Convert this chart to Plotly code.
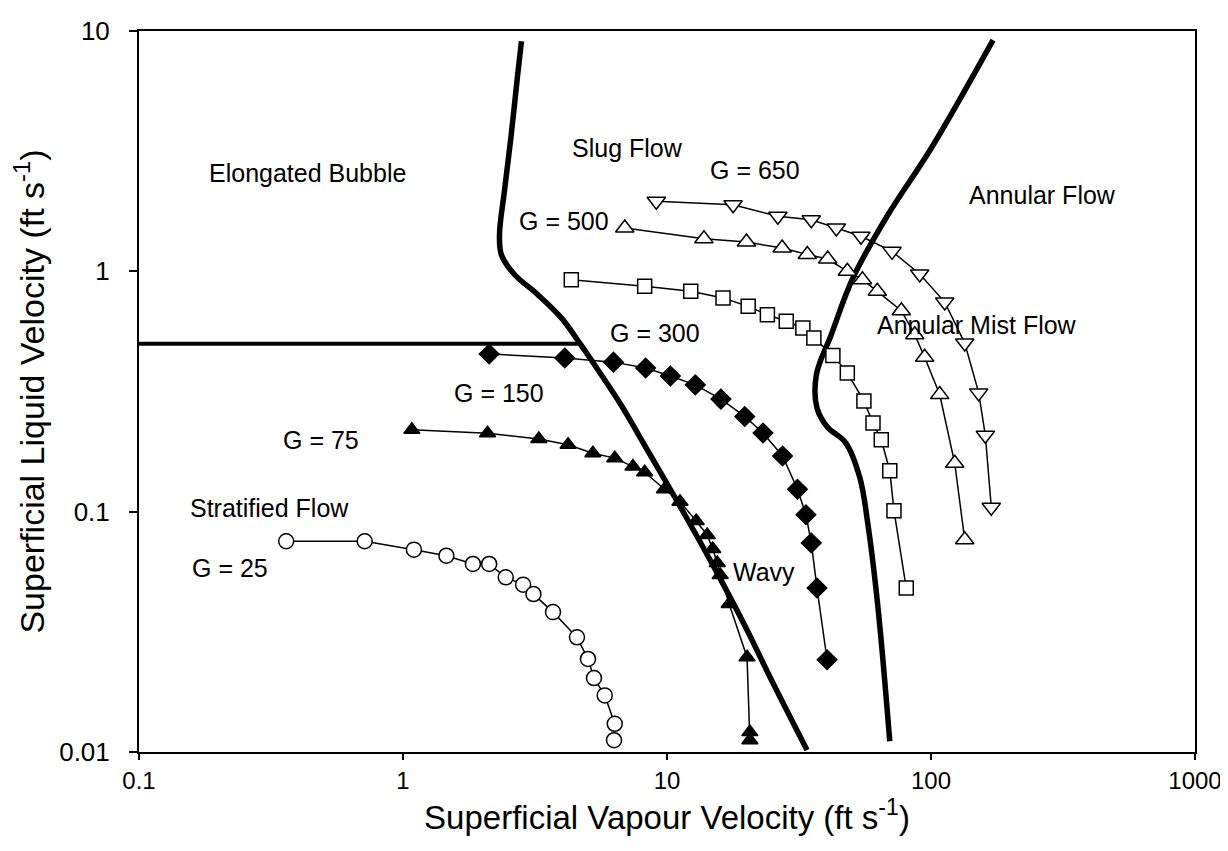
import numpy as np
import plotly.graph_objects as go

# ---------------- data ----------------
g25_x = [0.361, 0.716, 1.10, 1.46, 1.84, 2.12, 2.45, 2.85, 3.12, 3.70, 4.56, 5.02, 5.29, 5.81, 6.34, 6.30]
g25_y = [0.0753, 0.0753, 0.0695, 0.0656, 0.0606, 0.0606, 0.0533, 0.0497, 0.0454, 0.0382, 0.0300, 0.0244,
         0.0203, 0.0172, 0.0131, 0.0112]

g75_x = [1.08, 2.09, 3.27, 4.22, 5.24, 6.34, 7.43, 8.23, 9.78, 11.2, 12.9, 14.2, 14.9, 15.5, 15.9, 17.2,
         20.1, 20.6, 20.6]
g75_y = [0.219, 0.212, 0.2006, 0.190, 0.175, 0.167, 0.154, 0.146, 0.124, 0.110, 0.0915, 0.080, 0.070,
         0.0612, 0.0545, 0.0413, 0.0248, 0.0121, 0.0112]

g150_x = [2.12, 4.10, 6.27, 8.30, 10.3, 12.8, 16.0, 19.7, 23.1, 27.4, 31.2, 33.6, 35.2, 37.0, 40.4]
g150_y = [0.453, 0.436, 0.419, 0.396, 0.367, 0.337, 0.294, 0.249, 0.2125, 0.1705, 0.124, 0.0971, 0.0741,
          0.0481, 0.0242]

g300_x = [4.34, 8.23, 12.3, 16.3, 20.3, 24.0, 28.3, 32.7, 36.0, 42.5, 48.2, 55.7, 60.3, 64.8, 69.8, 72.4, 80.6]
g300_y = [0.923, 0.866, 0.826, 0.774, 0.715, 0.660, 0.620, 0.581, 0.528, 0.447, 0.378, 0.289, 0.234, 0.199,
          0.148, 0.101, 0.0481]

g500_x = [6.92, 13.8, 20.0, 27.3, 34.0, 40.6, 48.2, 55.0, 62.6, 77.2, 86.8, 94.6, 107.9, 123.0, 134.2]
g500_y = [1.515, 1.367, 1.324, 1.25, 1.175, 1.125, 1.0, 0.923, 0.826, 0.686, 0.545, 0.439, 0.307, 0.159, 0.0764]

g650_x = [9.11, 17.8, 26.3, 35.2, 43.8, 54.3, 71.2, 90.6, 112.7, 134.2, 151.6, 160.6, 169.2]
g650_y = [1.956, 1.893, 1.694, 1.64, 1.515, 1.399, 1.211, 0.975, 0.745, 0.503, 0.312, 0.208, 0.1043]

# flow-regime boundaries
left_bx = [2.81, 2.71, 2.57, 2.43, 2.32, 2.36, 2.65, 3.24, 3.98, 4.72, 5.48, 6.70, 8.47, 10.54, 13.1, 16.0,
           19.75, 25.2, 33.9]
left_by = [9.06, 6.37, 3.70, 2.22, 1.42, 1.17, 0.968, 0.80, 0.64, 0.494, 0.3886, 0.2778, 0.1788, 0.1184,
           0.0777, 0.0520, 0.03344, 0.01937, 0.0102]

right_bx = [171.8, 100.3, 68.7, 50.6, 41.9, 36.8, 37.0, 40.5, 47.6, 53.8, 57.7, 63.0, 69.8]
right_by = [9.17, 3.26, 1.72, 0.938, 0.545, 0.3715, 0.270, 0.225, 0.193, 0.138, 0.0883, 0.0397, 0.01108]

horiz_x = [0.1, 4.72]
horiz_y = [0.5, 0.5]

x_ticks = [0.1, 1, 10, 100, 1000]
x_ticktext = ["0.1", "1", "10", "100", "1000"]
y_ticks = [0.01, 0.1, 1, 10]
y_ticktext = ["0.01", "0.1", "1", "10"]

labels = [
    ("Elongated Bubble", 0.436, 2.57),
    ("Slug Flow", 7.06, 3.26),
    ("G = 650", 21.5, 2.64),
    ("G = 500", 4.07, 1.62),
    ("Annular Flow", 265.0, 2.08),
    ("Annular Mist Flow", 149.0, 0.598),
    ("G = 300", 9.0, 0.554),
    ("G = 150", 2.31, 0.312),
    ("G = 75", 0.489, 0.199),
    ("Stratified Flow", 0.313, 0.1036),
    ("G = 25", 0.221, 0.0583),
    ("Wavy", 23.3, 0.0561),
]

# ---------------- figure ----------------
FONT = "Liberation Sans, Arial, sans-serif"
fig = go.Figure()

for bx, by in [(left_bx, left_by), (right_bx, right_by)]:
    fig.add_trace(go.Scatter(x=bx, y=by, mode="lines",
                             line=dict(color="black", width=5.5, shape="spline", smoothing=1.0),
                             hoverinfo="skip"))
fig.add_trace(go.Scatter(x=horiz_x, y=horiz_y, mode="lines",
                         line=dict(color="black", width=4), hoverinfo="skip"))

series = [
    (g25_x, g25_y, "circle", "white", 15),
    (g75_x, g75_y, "triangle-up", "black", 14),
    (g150_x, g150_y, "diamond", "black", 15),
    (g300_x, g300_y, "square", "white", 14),
    (g500_x, g500_y, "triangle-up", "white", 16),
    (g650_x, g650_y, "triangle-down", "white", 16),
]
for sx, sy, sym, fill, size in series:
    fig.add_trace(go.Scatter(
        x=sx, y=sy, mode="lines+markers",
        line=dict(color="black", width=1.5),
        marker=dict(symbol=sym, size=size, color=fill, line=dict(color="black", width=1.5)),
    ))

for text, lx, ly in labels:
    fig.add_annotation(x=np.log10(lx), y=np.log10(ly), text=text, showarrow=False,
                       font=dict(family=FONT, size=25, color="black"),
                       xanchor="center", yanchor="middle")

fig.update_layout(
    width=1228, height=851,
    margin=dict(l=131, r=41, t=23, b=107),
    paper_bgcolor="white", plot_bgcolor="white",
    showlegend=False,
    font=dict(family=FONT, color="black"),
)
fig.update_xaxes(
    type="log", range=[-1, 3], tickvals=x_ticks, ticktext=x_ticktext,
    showgrid=False, zeroline=False, automargin=False,
    showline=True, linecolor="black", linewidth=2, mirror=True,
    ticks="outside", ticklen=6, tickwidth=1.5, tickcolor="black",
    tickfont=dict(family=FONT, size=24, color="black"),
    title=dict(text="Superficial Vapour Velocity (ft s<sup>-1</sup>)",
               font=dict(family=FONT, size=33, color="black"), standoff=0),
)
fig.update_yaxes(
    type="log", range=[-2, 1], tickvals=y_ticks, ticktext=y_ticktext,
    showgrid=False, zeroline=False, automargin=False,
    showline=True, linecolor="black", linewidth=2, mirror=True,
    ticks="outside", ticklen=8, tickwidth=1.5, tickcolor="black",
    ticklabelstandoff=14,
    tickfont=dict(family=FONT, size=26, color="black"),
    title=dict(text="Superficial Liquid Velocity (ft s<sup>-1</sup>)",
               font=dict(family=FONT, size=34, color="black"), standoff=4),
)

fig.write_html("out.html")
